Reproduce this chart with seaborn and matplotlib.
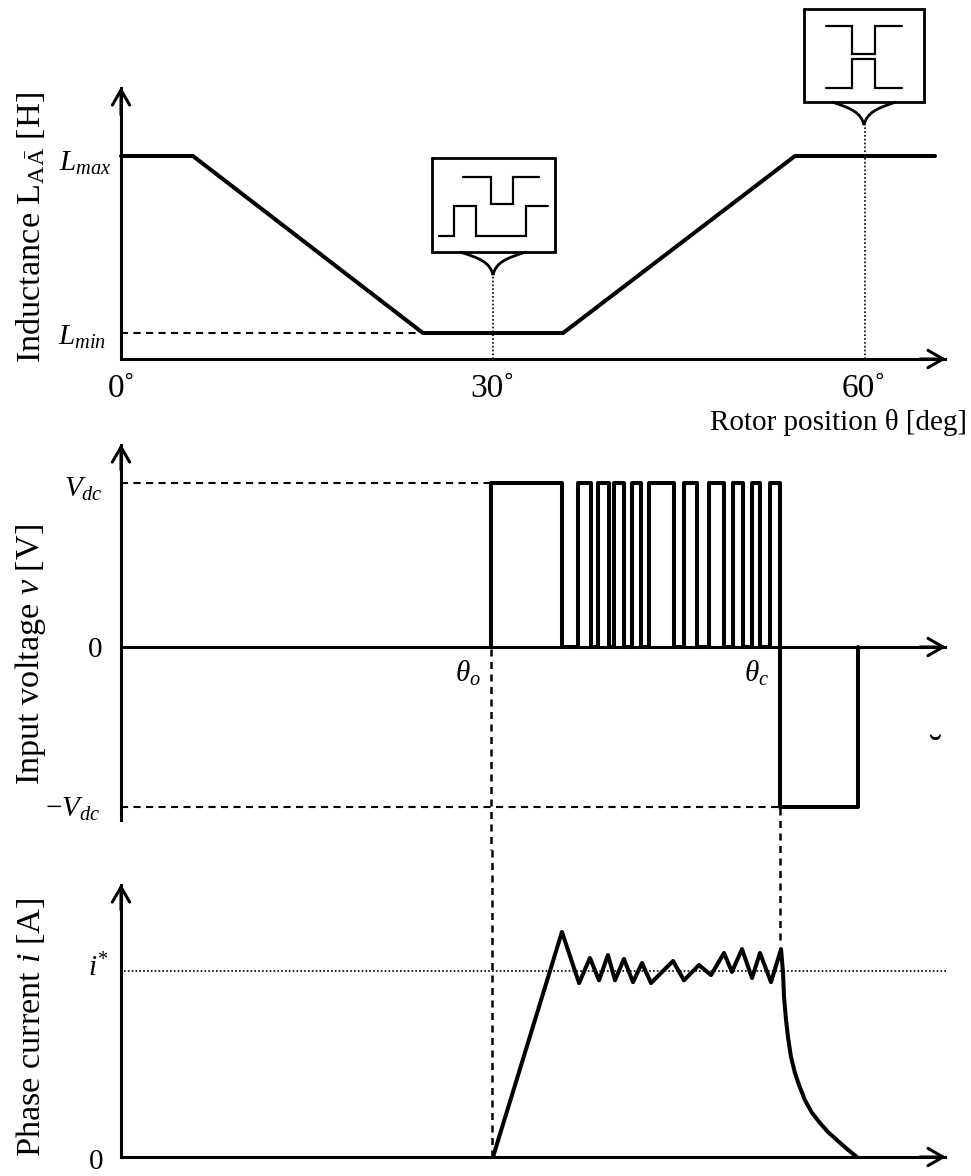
import matplotlib
matplotlib.use('Agg')
import matplotlib.pyplot as plt
import pandas as pd
import seaborn as sns
from matplotlib.patches import PathPatch
from matplotlib.path import Path

# inductance profile, x in degrees
theta_l = [0, 5.8, 24.35, 35.65, 54.35, 65.65]
induct = [1.0, 1.0, 0.128, 0.128, 1.0, 1.0]

# voltage switching edges in degrees
edges = [29.8, 35.56, 36.85, 37.9, 38.47, 39.35, 39.76, 40.56, 41.21, 41.94, 42.58, 44.6,
         45.4, 46.45, 47.42, 48.63, 49.35, 50.16, 50.89, 51.53, 52.34, 53.15]
theta_end = 59.44
v_neg = -0.976

# phase current
theta_i = [30.0, 35.56, 36.94, 37.82, 38.55, 39.27, 39.84, 40.56, 41.29, 42.02, 42.74, 44.52,
           45.4, 46.61, 47.58, 48.63, 49.27, 50.08, 50.89, 51.53, 52.42, 53.23,
           53.39, 53.47, 53.63, 53.79, 54.03, 54.35, 54.68, 55.16, 55.73, 56.37, 57.02, 57.74, 58.55, 59.35]
current = [0, 1.21, 0.935, 1.07, 0.95, 1.086, 0.95, 1.065, 0.94, 1.043, 0.935, 1.054,
           0.95, 1.032, 0.978, 1.097, 0.995, 1.118, 0.962, 1.097, 0.94, 1.118,
           0.989, 0.86, 0.737, 0.645, 0.538, 0.452, 0.387, 0.305, 0.237, 0.183, 0.134, 0.091, 0.043, 0]

W, H = 971, 1176
X0, X1 = 121, 945
PX_DEG = 12.4
LW = 2.9
AX_LW = 2.2
FS_V = 24.7
FS_H = 21

sns.set_theme(style='white')
plt.rcParams['font.family'] = ['Liberation Serif', 'DejaVu Serif']
plt.rcParams['mathtext.fontset'] = 'custom'
plt.rcParams['mathtext.rm'] = 'Liberation Serif'
plt.rcParams['mathtext.it'] = 'Liberation Serif:italic'
plt.rcParams['mathtext.default'] = 'it'

fig = plt.figure(figsize=(W / 100, H / 100), dpi=100)


def make_axes(top, bottom, ymin, ymax):
    ax = fig.add_axes([X0 / W, 1 - bottom / H, (X1 - X0) / W, (bottom - top) / H])
    ax.set_xlim(0, (X1 - X0) / PX_DEG)
    ax.set_ylim(ymin, ymax)
    ax.set_xticks([])
    ax.set_yticks([])
    ax.patch.set_alpha(0)
    sns.despine(ax=ax)
    for s in ['left', 'bottom']:
        ax.spines[s].set_linewidth(AX_LW)
        ax.spines[s].set_color('black')
    return ax


def draw(ax, x, y):
    df = pd.DataFrame({'x': x, 'y': y})
    sns.lineplot(data=df, x='x', y='y', ax=ax, color='black', lw=LW, estimator=None, sort=False,
                 solid_joinstyle='round', clip_on=False)
    ax.set_xlabel('')
    ax.set_ylabel('')


# panel 1
ax1 = make_axes(88, 359, 0, 271 / 203)
draw(ax1, theta_l, induct)
ax1.plot([0, theta_l[2]], [induct[2], induct[2]], color='black', lw=1.5, ls=(0, (3.4, 2.6)))
ax1.plot([30, 30], [0, 0.44], color='black', lw=1.2, ls=(0, (1, 1.3)))
ax1.plot([60, 60], [0, 1.155], color='black', lw=1.2, ls=(0, (1, 1.3)))

# panel 2
ax2 = make_axes(445, 820, -173 / 164, 202 / 164)
ax2.spines['bottom'].set_position(('data', 0))
volt_x = []
volt_y = []
level = 0
for e in edges:
    volt_x += [e, e]
    volt_y += [level, 1 - level]
    level = 1 - level
volt_x += [edges[-1], theta_end, theta_end]
volt_y += [v_neg, v_neg, 0]
draw(ax2, volt_x, volt_y)
ax2.plot([0, edges[0]], [1, 1], color='black', lw=1.5, ls=(0, (3.4, 2.6)))
ax2.plot([0, edges[-1]], [v_neg, v_neg], color='black', lw=1.5, ls=(0, (3.4, 2.6)))

# panel 3
ax3 = make_axes(885, 1157, 0, 272 / 186)
draw(ax3, theta_i, current)
ax3.plot([0.25, 66.7], [1, 1], color='black', lw=1.2, ls=(0, (1, 1.3)), clip_on=False)

# overlay in pixel units for the schematic parts
ov = fig.add_axes([0, 0, 1, 1])
ov.set_xlim(0, W)
ov.set_ylim(H, 0)
ov.axis('off')
ov.patch.set_alpha(0)

# axis arrows
for (x0, y0, x1, y1) in [(121, 115, 121, 87), (121, 470, 121, 444), (121, 910, 121, 884),
                         (920, 359, 946, 359), (920, 647, 946, 647), (920, 1157, 946, 1157)]:
    ov.annotate('', xy=(x1, y1), xytext=(x0, y0),
                arrowprops=dict(arrowstyle='->,head_length=0.45,head_width=0.26', lw=AX_LW,
                                color='black', mutation_scale=24, shrinkA=0, shrinkB=0))

# crossing dashed lines
DASH = (0, (2.8, 2.2))
ov.plot([491, 491], [649, 850], color='black', lw=1.8, ls=DASH)
ov.plot([492, 492], [850, 1157], color='black', lw=1.8, ls=DASH)
ov.plot([780, 780], [808, 945], color='black', lw=1.8, ls=DASH)


def poly(xs, ys, lw=1.6):
    ov.plot(xs, ys, color='black', lw=lw, solid_joinstyle='miter')


def bracket(xa, xm, xb, ytop, ytip):
    verts = [(xa, ytop), (xm - 14, ytop + 6), (xm - 3, ytop + 10), (xm, ytip),
             (xm + 3, ytop + 10), (xm + 14, ytop + 6), (xb, ytop)]
    codes = [Path.MOVETO, Path.CURVE4, Path.CURVE4, Path.CURVE4, Path.CURVE4, Path.CURVE4, Path.CURVE4]
    ov.add_patch(PathPatch(Path(verts, codes), fill=False, lw=2, ec='black'))


# unaligned pole box
poly([432, 555, 555, 432, 432], [158, 158, 252, 252, 158], lw=2)
poly([463, 491, 491, 513, 513, 539], [177, 177, 204, 204, 177, 177])
poly([439, 454, 454, 476, 476, 526, 526, 548], [236, 236, 206, 206, 236, 236, 206, 206])
bracket(460, 493, 526, 252, 275)

# aligned pole box
poly([804, 924, 924, 804, 804], [9, 9, 102, 102, 9], lw=2)
poly([826, 852, 852, 875, 875, 902], [26, 26, 54, 54, 26, 26])
poly([826, 852, 852, 875, 875, 902], [88, 88, 59, 59, 88, 88])
bracket(832, 864, 896, 102, 125)


def label(x, y, s, **kw):
    kw.setdefault('fontsize', FS_H)
    ov.text(x, y, s, ha=kw.pop('ha', 'center'), va=kw.pop('va', 'center'), color='black', **kw)


# axis titles
label(31, 228, r'Inductance L$_{\mathrm{A\bar{A}}}$ [H]', rotation=90, fontsize=FS_V)
label(31, 654, r'Input voltage $v$ [V]', rotation=90, fontsize=FS_V)
label(31, 1027, r'Phase current $i$ [A]', rotation=90, fontsize=FS_V)
label(838, 423, 'Rotor position θ [deg]')

# value labels
label(85, 163, r'$L_{max}$')
label(82, 337, r'$L_{min}$')
label(83, 489, r'$V_{dc}$')
label(95, 650, '0')
label(73, 809, r'−$V_{dc}$')
label(468, 673, r'$\theta_{o}$')
label(757, 673, r'$\theta_{c}$')
label(99, 968, r'$i^{*}$')
label(96, 1162, '0')
label(122, 389, '0˚', fontsize=24)
label(493, 389, '30˚', fontsize=24)
label(864, 389, '60˚', fontsize=24)
label(935, 753, '˘', fontsize=28)

fig.savefig('out.png', dpi=100)
